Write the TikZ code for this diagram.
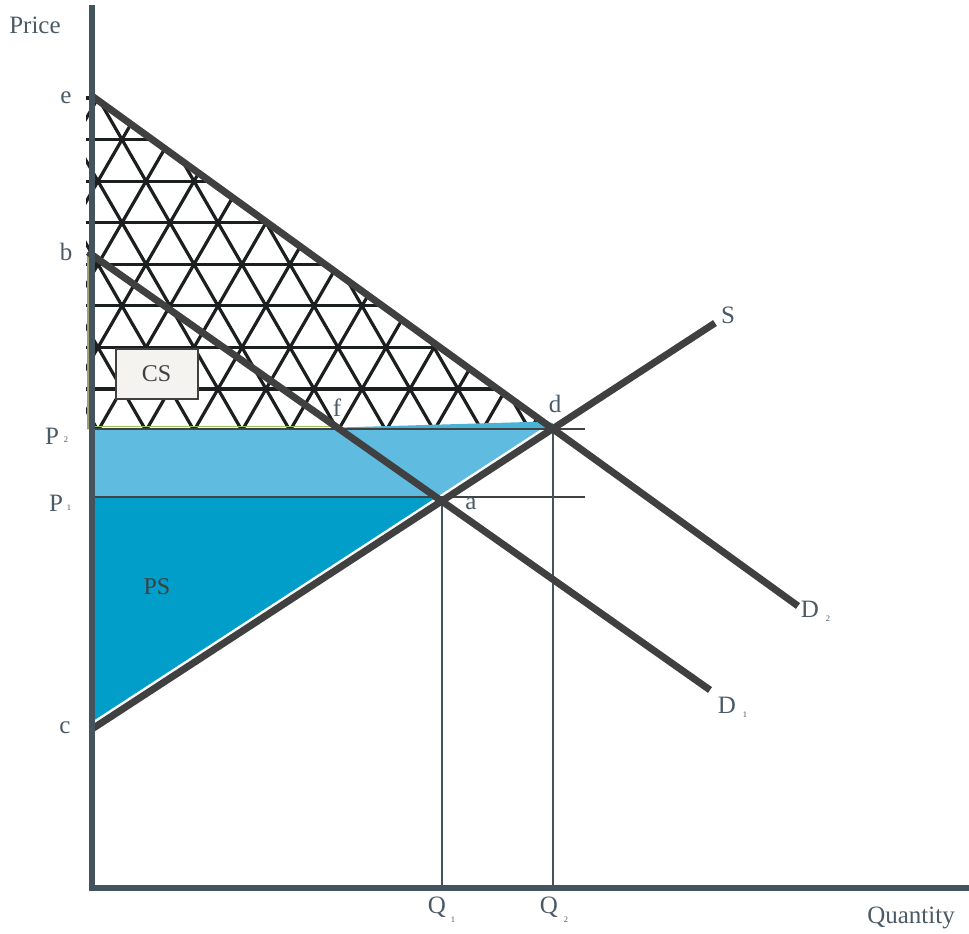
\documentclass[tikz,border=0pt]{standalone}
\usepackage{fontspec}
\setmainfont{Liberation Serif}
\definecolor{axisc}{HTML}{44545E}
\definecolor{curvec}{HTML}{404040}
\definecolor{txtc}{HTML}{4A5A66}
\definecolor{lblue}{HTML}{5FBBDF}
\definecolor{dblue}{HTML}{009EC9}
\definecolor{sliverc}{HTML}{48B3D6}
\definecolor{hatchc}{HTML}{1C1F1F}
\definecolor{olivec}{HTML}{A39E78}
\definecolor{greenc}{HTML}{9CC45C}
\definecolor{csfill}{HTML}{F4F3F0}
\begin{document}
\begin{tikzpicture}[x=1pt,y=-1pt,
  lab/.style={text=txtc,font=\fontsize{25}{28}\selectfont,inner sep=0pt},
  sublab/.style={text=txtc,font=\fontsize{8.5}{9}\selectfont,inner sep=0pt},
  areatxt/.style={text=curvec,font=\fontsize{24}{27}\selectfont,inner sep=0pt},
  curve/.style={draw=curvec,line width=7pt},
  guide/.style={draw=axisc,line width=2pt},
  level/.style={draw=curvec!90!axisc,line width=2.5pt},
  hatchl/.style={draw=hatchc,line width=3.2pt},
  axisl/.style={draw=axisc,line width=5.5pt}]
\useasboundingbox (0,0) rectangle (969,934);
% key points
\coordinate (e) at (92,96);
\coordinate (D2e) at (798,606);
\coordinate (b) at (88,252);
\coordinate (D1e) at (710,690);
\coordinate (c) at (92,729);
\coordinate (Se) at (715,323);
\coordinate (d) at (553,429);
\coordinate (a) at (442,501);
\coordinate (sp1) at (448.5,497);
\coordinate (P2l) at (92,429);
\coordinate (P1l) at (92,497);
\coordinate (P2r) at (585,429);
\coordinate (P1r) at (585,497);
\coordinate (Q1t) at (442,500);
\coordinate (Q1b) at (442,888);
\coordinate (Q2t) at (553,429);
\coordinate (Q2b) at (553,888);
\coordinate (O) at (92,888);
\coordinate (Yt) at (92,5);
\coordinate (Xr) at (969,888);
% triangular lattice (consumer surplus gain)
\begin{scope}
  \clip (86,93) -- (92,96) -- (553,429) -- (86,429) -- cycle;
  \foreach \j in {0,...,8} {
    \draw[hatchl] (80,{98+41.57*\j}) -- (600,{98+41.57*\j});
  }
  \foreach \k in {-6,...,14} {
    \draw[hatchl] ({98+48*\k-48},{98-83.14}) -- ({98+48*\k+240},{98+415.7});
    \draw[hatchl] ({98+48*\k+48},{98-83.14}) -- ({98+48*\k-240},{98+415.7});
  }
\end{scope}
% surplus areas
\fill[lblue] (P2l) -- (d) -- (sp1) -- (P1l) -- cycle;
\fill[dblue] (P1l) -- (sp1) -- (c) -- cycle;
\fill[sliverc] (339,427.5) -- (545,421.5) -- (553,423) -- (553,429) -- (339,429) -- cycle;
\draw[greenc,line width=1.8pt] (94,426.5) -- (339,426.5);
\begin{scope}
  \clip (P2l) -- (d) -- (c) -- cycle;
  \draw[white,line width=12pt] (c) -- (Se);
\end{scope}
% price and quantity guides
\draw[level] (P2l) -- (P2r);
\draw[level] (P1l) -- (P1r);
\draw[guide] (Q1t) -- (Q1b);
\draw[guide] (Q2t) -- (Q2b);
\draw[olivec,line width=2.5pt] (88,252) -- (88,429);
% curves
\draw[curve] (e) -- (D2e);
\draw[curve] (b) -- (D1e);
\draw[curve] (c) -- (Se);
% axes
\draw[axisl] (Yt) -- (92,891);
\draw[axisl] (89,888) -- (Xr);
% boxes and labels
\node[draw=curvec,line width=2pt,fill=csfill,minimum width=82pt,minimum height=50pt,areatxt] (cs) at (156.5,373.5) {CS};
\node[areatxt] (ps) at (157,587) {PS};
\node[lab] (price) at (35,25) {Price};
\node[lab] (qty) at (911,918) {Quantity};
\node[lab] (le) at (66,98) {e};
\node[lab] (lb) at (66,252) {b};
\node[lab] (lc) at (65,728) {c};
\node[lab] (lP2) at (52,436) {P};
\node[sublab] (lP2s) at (66,440) {2};
\node[lab] (lP1) at (56,503) {P};
\node[sublab] (lP1s) at (69,508) {1};
\node[lab] (lf) at (337,408) {f};
\node[lab] (ld) at (555,404) {d};
\node[lab] (la) at (471,504) {a};
\node[lab] (lS) at (728,315) {S};
\node[lab] (lD2) at (810,609) {D};
\node[sublab] (lD2s) at (828,619) {2};
\node[lab] (lD1) at (727,705) {D};
\node[sublab] (lD1s) at (745,715) {1};
\node[lab] (lQ1) at (437,907) {Q};
\node[sublab] (lQ1s) at (453,920) {1};
\node[lab] (lQ2) at (549,907) {Q};
\node[sublab] (lQ2s) at (566,920) {2};
\end{tikzpicture}
\end{document}
